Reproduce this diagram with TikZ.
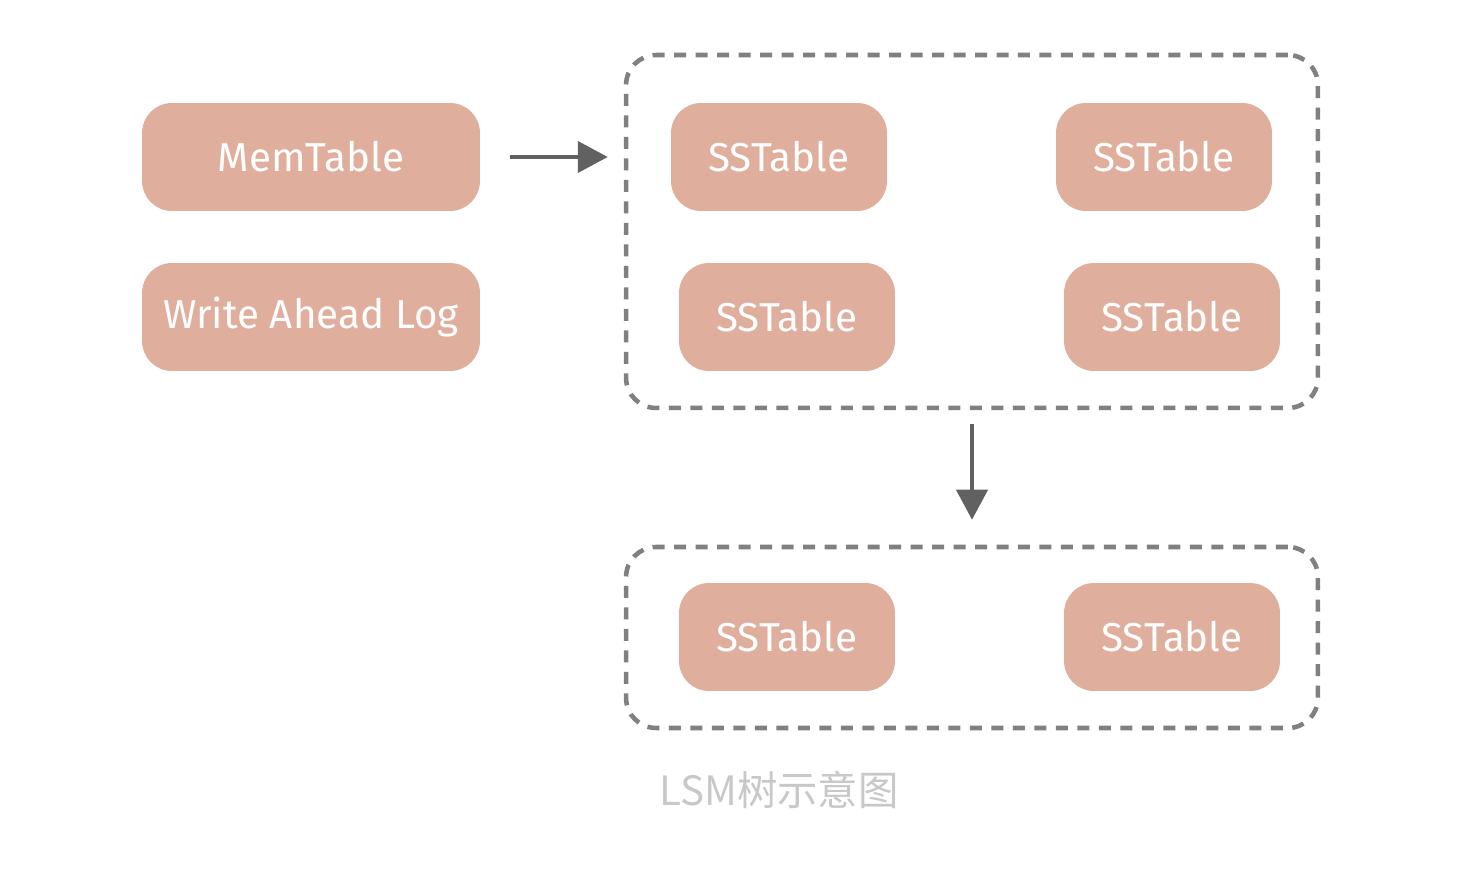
\documentclass[tikz,border=0pt]{standalone}
\usepackage{fontspec}
\newfontfamily\handfont{Fira Sans}
\newfontfamily\cjkfont{Noto Sans CJK SC}
\usepackage{xcolor}
\definecolor{boxfill}{HTML}{E0AE9C}
\definecolor{dashgray}{HTML}{808080}
\definecolor{arrowgray}{HTML}{616161}
\definecolor{captiongray}{HTML}{C8C8C8}
\usetikzlibrary{arrows.meta, positioning}

\begin{document}
\begin{tikzpicture}[x=0.02cm, y=-0.02cm]
  \tikzstyle{tablebox}=[rectangle, rounded corners=0.6cm, fill=boxfill, draw=none,
    minimum width=4.32cm, minimum height=2.16cm, text=white,
    font=\handfont\fontsize{23}{26}\selectfont, inner sep=0pt]
  \tikzstyle{level}=[rectangle, rounded corners=0.6cm, draw=dashgray,
    line width=2.6pt, dash pattern=on 0.24cm off 0.19cm, minimum width=13.84cm,
    inner sep=0pt]
  \tikzstyle{arr}=[-{Triangle[length=0.6cm, width=0.62cm]}, line width=2.4pt,
    color=arrowgray]
  \useasboundingbox[fill=white] (0,0) rectangle (1484,888);
  % memory side
  \node[tablebox, minimum width=6.76cm] (mem) at (311,157) {MemTable};
  \node[tablebox, minimum width=6.76cm] (wal) at (311,317) {Write Ahead Log};
  % disk levels
  \node[level, minimum height=7.06cm] (lvl0) at (972,231.5) {};
  \node[level, minimum height=3.62cm] (lvl1) at (972,637.5) {};
  \node[tablebox] (s1) at (779,157) {SSTable};
  \node[tablebox] (s2) at (1164,157) {SSTable};
  \node[tablebox] (s3) at (787,317) {SSTable};
  \node[tablebox] (s4) at (1172,317) {SSTable};
  \node[tablebox] (s5) at (787,637) {SSTable};
  \node[tablebox] (s6) at (1172,637) {SSTable};
  \draw[arr, shorten <=0.6cm, shorten >=0.32cm] (mem.east) -- (lvl0.west |- mem.east);
  \draw[arr, shorten <=0.28cm, shorten >=0.5cm] (lvl0.south) -- (lvl1.north);
  \node[text=captiongray, font=\cjkfont\fontsize{23}{26}\selectfont] (caption)
    at (779,790) {LSM树示意图};
\end{tikzpicture}
\end{document}
